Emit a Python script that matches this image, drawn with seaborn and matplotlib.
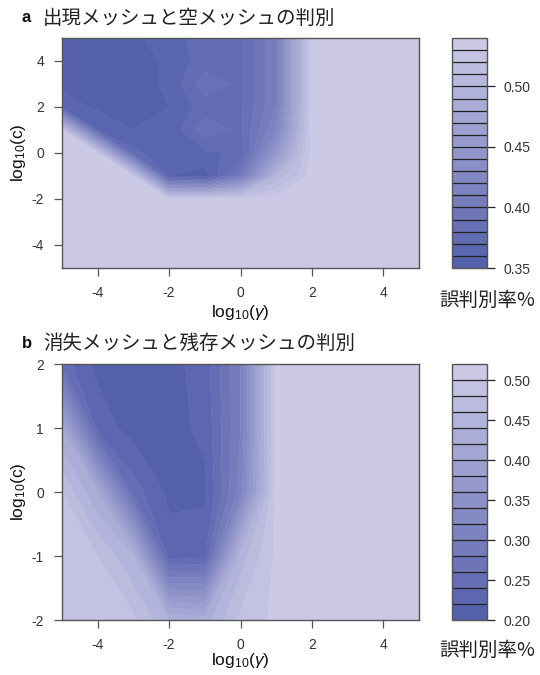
import numpy as np
import matplotlib
matplotlib.use("Agg")
import matplotlib.pyplot as plt
import seaborn as sns

# ---------------- data ----------------
log_gamma = [-5, -4, -3, -2, -1, 0, 1, 2, 3, 4, 5]

# panel a: rows are log10(c) from 5 down to -5
log_c_a = [5, 4, 3, 2, 1, 0, -1, -2, -3, -4, -5]
err_a = [
    [0.36, 0.358, 0.358, 0.365, 0.375, 0.378, 0.41, 0.535, 0.535, 0.535, 0.535],
    [0.358, 0.355, 0.355, 0.362, 0.375, 0.378, 0.41, 0.535, 0.535, 0.535, 0.535],
    [0.358, 0.355, 0.355, 0.362, 0.386, 0.378, 0.41, 0.535, 0.535, 0.535, 0.535],
    [0.365, 0.358, 0.355, 0.36, 0.375, 0.378, 0.41, 0.535, 0.535, 0.535, 0.535],
    [0.53, 0.37, 0.36, 0.362, 0.386, 0.378, 0.42, 0.535, 0.535, 0.535, 0.535],
    [0.535, 0.53, 0.372, 0.365, 0.368, 0.372, 0.45, 0.535, 0.535, 0.535, 0.535],
    [0.535, 0.535, 0.53, 0.36, 0.355, 0.40, 0.50, 0.535, 0.535, 0.535, 0.535],
    [0.535, 0.535, 0.535, 0.53, 0.53, 0.535, 0.535, 0.535, 0.535, 0.535, 0.535],
    [0.535, 0.535, 0.535, 0.535, 0.535, 0.535, 0.535, 0.535, 0.535, 0.535, 0.535],
    [0.535, 0.535, 0.535, 0.535, 0.535, 0.535, 0.535, 0.535, 0.535, 0.535, 0.535],
    [0.535, 0.535, 0.535, 0.535, 0.535, 0.535, 0.535, 0.535, 0.535, 0.535, 0.535],
]

# panel b: rows are log10(c) from 2 down to -2
log_c_b = [2, 1, 0, -1, -2]
err_b = [
    [0.25, 0.215, 0.212, 0.212, 0.23, 0.30, 0.51, 0.51, 0.51, 0.51, 0.51],
    [0.42, 0.23, 0.212, 0.212, 0.225, 0.30, 0.51, 0.51, 0.51, 0.51, 0.51],
    [0.48, 0.42, 0.25, 0.215, 0.215, 0.31, 0.51, 0.51, 0.51, 0.51, 0.51],
    [0.485, 0.48, 0.44, 0.23, 0.235, 0.45, 0.505, 0.51, 0.51, 0.51, 0.51],
    [0.485, 0.485, 0.485, 0.44, 0.43, 0.485, 0.505, 0.51, 0.51, 0.51, 0.51],
]

title_a = "出現メッシュと空メッシュの判別"
title_b = "消失メッシュと残存メッシュの判別"
cbar_label = "誤判別率%"
ticks_a_y = [-4, -2, 0, 2, 4]
ticks_b_y = [-2, -1, 0, 1, 2]
ticks_x = [-4, -2, 0, 2, 4]
cticks_a = [0.35, 0.40, 0.45, 0.50]
cticks_b = [0.20, 0.25, 0.30, 0.35, 0.40, 0.45, 0.50]
levels_a = np.round(np.arange(0.35, 0.5401, 0.01), 3)
levels_b = np.round(np.arange(0.20, 0.5201, 0.02), 3)

# ---------------- style ----------------
sns.set_theme(style="white")
plt.rcParams["font.family"] = ["Liberation Sans", "Noto Sans CJK JP", "DejaVu Sans"]
plt.rcParams["mathtext.fontset"] = "custom"
plt.rcParams["mathtext.rm"] = "Liberation Sans"
plt.rcParams["mathtext.it"] = "Liberation Sans:italic"

DARK = "#5560ad"
LIGHT = "#cbc9e6"
TXT = "#333333"
FRAME = "#555555"

W, H = 540, 675
fig = plt.figure(figsize=(W / 100, H / 100), dpi=100)


def px_axes(x0, y0, x1, y1):
    return fig.add_axes([x0 / W, 1 - y1 / H, (x1 - x0) / W, (y1 - y0) / H])


def panel(ax, cax, Z, cvals, levels, yticks, cticks, ylim):
    cols = sns.blend_palette([DARK, LIGHT], n_colors=len(levels) - 1)
    Zarr = np.array(Z)[::-1]
    yv = np.array(cvals)[::-1]
    cs = ax.contourf(log_gamma, yv, Zarr, levels=levels, colors=cols,
                     antialiased=True)
    # second pass hides hairline gaps between bands
    ax.contourf(log_gamma, yv, Zarr, levels=levels, colors=cols,
                antialiased=True)
    ax.set_xlim(-5, 5)
    ax.set_ylim(*ylim)
    ax.set_xticks(ticks_x)
    ax.set_yticks(yticks)
    ax.set_xticklabels([str(t) for t in ticks_x])
    ax.set_yticklabels([str(t) for t in yticks])
    ax.tick_params(axis="both", direction="out", length=6, width=0.9,
                   color=FRAME, labelsize=10, labelcolor=TXT, pad=7,
                   bottom=True, left=True)
    for s in ax.spines.values():
        s.set_color(FRAME)
        s.set_linewidth(1.0)

    cb = fig.colorbar(cs, cax=cax, drawedges=True)
    cb.outline.set_edgecolor(FRAME)
    cb.outline.set_linewidth(1.0)
    cb.dividers.set_color("#222222")
    cb.dividers.set_linewidth(0.9)
    cb.set_ticks(cticks)
    cb.set_ticklabels(["%.2f" % t for t in cticks])
    cax.tick_params(axis="y", direction="out", length=6, width=0.9,
                    color="#222222", labelsize=10, labelcolor=TXT, pad=6,
                    right=True)
    return cs


# panel a
ax_a = px_axes(62, 38, 419, 268)
cax_a = px_axes(452, 38, 487, 268)
panel(ax_a, cax_a, err_a, log_c_a, levels_a, ticks_a_y, cticks_a, (-5, 5))

# panel b
ax_b = px_axes(62, 364, 419, 620)
cax_b = px_axes(452, 364, 487, 620)
panel(ax_b, cax_b, err_b, log_c_b, levels_b, ticks_b_y, cticks_b, (-2, 2))

# texts
for (yt, letter, title, yplot, ylab_y, cbl_y) in [
    (18, "a", title_a, 312, 153, 300),
    (343, "b", title_b, 661, 492, 650),
]:
    fig.text(22 / W, 1 - yt / H, letter, ha="left", va="center",
             fontsize=12, fontweight="bold", color="#111111")
    fig.text(43 / W, 1 - yt / H, title, ha="left", va="center",
             fontsize=14, family=["Noto Sans CJK JP", "DejaVu Sans"],
             color="#222222")
    fig.text(240 / W, 1 - yplot / H, r"log$_{10}$($\mathit{\gamma}$)",
             ha="center", va="center", fontsize=12.5, color="#111111")
    fig.text(18 / W, 1 - ylab_y / H, r"log$_{10}$(c)", ha="center",
             va="center", rotation=90, fontsize=12.5, color="#111111")
    fig.text(487 / W, 1 - cbl_y / H, cbar_label, ha="center", va="center",
             fontsize=14, family=["Noto Sans CJK JP", "DejaVu Sans"],
             color="#222222")

fig.savefig("out.png", dpi=100)
